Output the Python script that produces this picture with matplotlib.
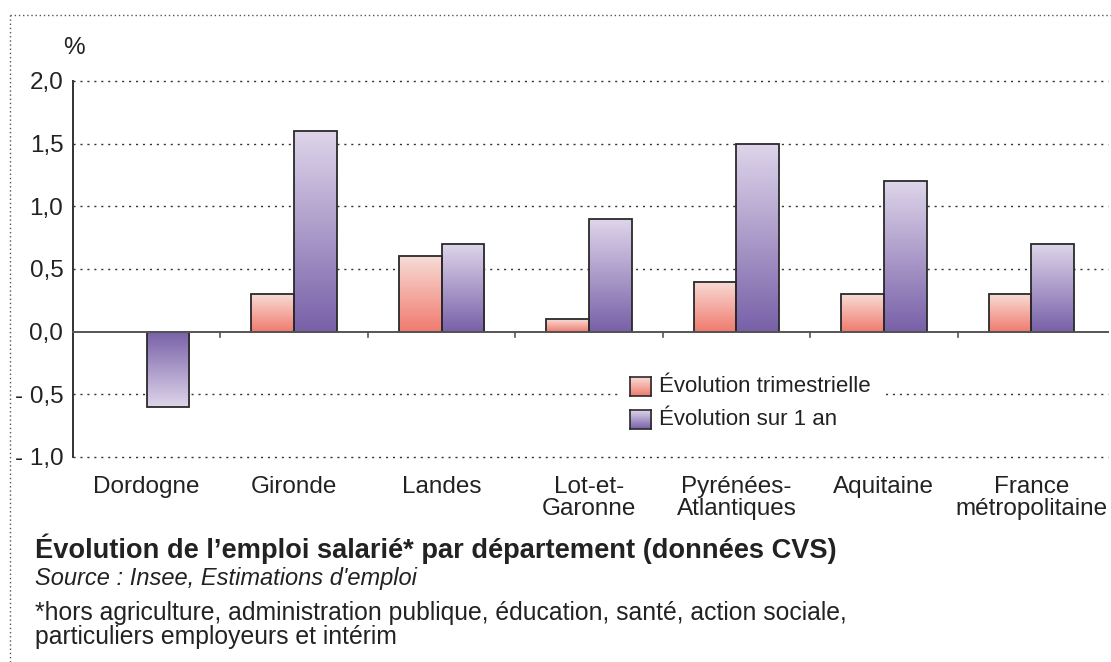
import numpy as np
import matplotlib
matplotlib.use("Agg")
import matplotlib.pyplot as plt
from matplotlib.lines import Line2D
from matplotlib.patches import Rectangle
from matplotlib.colors import LinearSegmentedColormap

categories = ["Dordogne", "Gironde", "Landes", "Lot-et-\nGaronne",
              "Pyrénées-\nAtlantiques", "Aquitaine", "France\nmétropolitaine"]
evol_trim = [0.0, 0.3, 0.6, 0.1, 0.4, 0.3, 0.3]
evol_an = [-0.6, 1.6, 0.7, 0.9, 1.5, 1.2, 0.7]
yticks = [-1.0, -0.5, 0.0, 0.5, 1.0, 1.5, 2.0]
ytick_labels = ["- 1,0", "- 0,5", "0,0", "0,5", "1,0", "1,5", "2,0"]
series_names = ["Évolution trimestrielle", "Évolution sur 1 an"]

plt.rcParams['font.family'] = ['Liberation Sans', 'DejaVu Sans']

pink_cmap = LinearSegmentedColormap.from_list("pink", ["#f07a6e", "#f7dcd6"])
purple_cmap = LinearSegmentedColormap.from_list("purple", ["#7860a8", "#ded5ea"])

W, H = 1111, 662
fig = plt.figure(figsize=(W / 100, H / 100), dpi=100)
ax = fig.add_axes([73 / W, 1 - 457 / H, (1108 - 73) / W, (457 - 81) / H])

XL = (-0.5, 6.52)
YL = (-1.0, 2.0)

grad = np.linspace(0, 1, 256).reshape(-1, 1)
bw = 0.29


def gradient_bar(xc, val, cmap):
    if val == 0:
        return
    x0, x1 = xc - bw / 2, xc + bw / 2
    if val > 0:
        ax.imshow(grad, cmap=cmap, extent=(x0, x1, 0, val), origin='lower',
                  aspect='auto', zorder=3, interpolation='bilinear')
    else:
        ax.imshow(grad[::-1], cmap=cmap, extent=(x0, x1, val, 0), origin='lower',
                  aspect='auto', zorder=3, interpolation='bilinear')
    ax.add_patch(Rectangle((x0, min(0, val)), bw, abs(val), fill=False,
                           edgecolor="#2a2a2a", linewidth=1.3, zorder=4))


x = np.arange(len(categories))
for i in x:
    gradient_bar(i - bw / 2, evol_trim[i], pink_cmap)
    gradient_bar(i + bw / 2, evol_an[i], purple_cmap)

ax.set_xlim(*XL)
ax.set_ylim(*YL)

# grid lines
for yv in yticks:
    if yv == 0:
        ax.axhline(0, color="#555555", linewidth=1.4, zorder=5, clip_on=False)
    else:
        ax.axhline(yv, color="#333333", linewidth=1.0, linestyle=(0, (1.5, 3.5)),
                   zorder=1, clip_on=False)

# boundary ticks on zero line
for b in x[:-1] + 0.5:
    ax.plot([b, b], [0, -0.04], color="#555555", linewidth=1.2, zorder=5)

for s in ["top", "right", "bottom"]:
    ax.spines[s].set_visible(False)
ax.spines["left"].set_color("#333333")
ax.spines["left"].set_linewidth(1.4)

ax.set_yticks(yticks)
ax.set_yticklabels(ytick_labels, fontsize=17.5, color="#222222")
ax.tick_params(axis='y', length=0, pad=7)
ax.set_xticks(x)
ax.set_xticklabels(categories, fontsize=17.5, color="#222222")
ax.tick_params(axis='x', length=0, pad=14)
for lab in ax.get_xticklabels():
    lab.set_linespacing(0.95)

# legend (manual, gradient swatches)
ax.add_patch(Rectangle((0.528, 0.05), 0.257, 0.187, transform=ax.transAxes,
                       facecolor="white", edgecolor="none", zorder=2))
for k, (name, cmap) in enumerate(zip(series_names, [pink_cmap, purple_cmap])):
    yb = [0.162, 0.0745][k]
    iax = ax.inset_axes([0.538, yb, 0.0203, 0.0505])
    iax.imshow(grad, cmap=cmap, origin='lower', aspect='auto', interpolation='bilinear')
    iax.set_xticks([])
    iax.set_yticks([])
    for sp in iax.spines.values():
        sp.set_color("#2a2a2a")
        sp.set_linewidth(1.2)
    ax.text(0.566, yb + 0.025, name, transform=ax.transAxes, fontsize=16,
            va='center', ha='left', color="#222222", zorder=6)

# % unit
fig.text(74 / W, 1 - 48 / H, "%", fontsize=17.5, ha='center', va='center', color="#222222")

# outer dotted frame
fig.add_artist(Line2D([10 / W, 1], [1 - 15 / H, 1 - 15 / H], transform=fig.transFigure,
                      color="#555555", linewidth=1.0, linestyle=(0, (1, 2))))
fig.add_artist(Line2D([10 / W, 10 / W], [0, 1 - 15 / H], transform=fig.transFigure,
                      color="#555555", linewidth=1.0, linestyle=(0, (1, 2))))

# texts below
fig.text(35 / W, 1 - 549 / H, "Évolution de l’emploi salarié* par département (données CVS)",
         fontsize=19.6, fontweight='bold', ha='left', va='center', color="#222222")
fig.text(35 / W, 1 - 579 / H, "Source : Insee, Estimations d'emploi",
         fontsize=17, style='italic', ha='left', va='center', color="#222222")
fig.text(35 / W, 1 - 625 / H,
         "*hors agriculture, administration publique, éducation, santé, action sociale,\nparticuliers employeurs et intérim",
         fontsize=17.8, ha='left', va='center', color="#222222", linespacing=0.98)

fig.savefig("out.png", dpi=100)
